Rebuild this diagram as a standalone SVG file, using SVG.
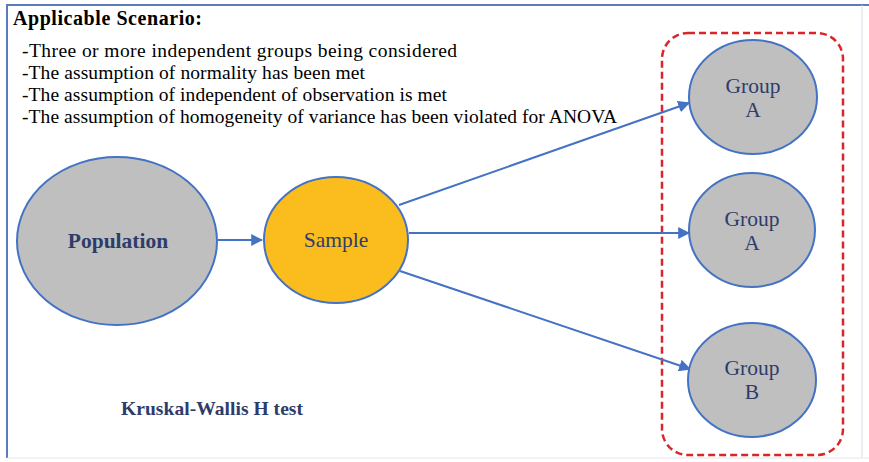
<svg xmlns="http://www.w3.org/2000/svg" width="869" height="462" viewBox="0 0 869 462">
<style>
.t{font-family:"Liberation Serif","Times New Roman",serif;}
.node{stroke:#4472c4;stroke-width:2;}
.gray{fill:#bfbfbf;}
.lbl{font-family:"Liberation Serif","Times New Roman",serif;font-size:21.5px;fill:#2e3c6b;text-anchor:middle;}
.conn line{stroke:#4472c4;stroke-width:2;marker-end:url(#ah);}
</style>
<defs>
<marker id="ah" viewBox="0 0 10 10" refX="9" refY="5" markerWidth="6" markerHeight="6" orient="auto" markerUnits="strokeWidth">
<path d="M0,0 L10,5 L0,10 z" fill="#4472c4"/>
</marker>
</defs>
<rect x="0" y="0" width="869" height="462" fill="#ffffff"/>
<path d="M7,458 L7,5 L869,5" fill="none" stroke="#5b7bbf" stroke-width="2"/>
<line x1="862" y1="5" x2="862" y2="458" stroke="#d8dde6" stroke-width="1"/>
<line x1="7" y1="458" x2="869" y2="458" stroke="#e3e6ea" stroke-width="1"/>
<g id="scenario" class="t" fill="#000">
<text x="13" y="25" font-size="20" font-weight="bold" textLength="189">Applicable Scenario:</text>
<text x="22" y="57" font-size="19.5" textLength="435">-Three or more independent groups being considered</text>
<text x="22" y="79" font-size="19.5" textLength="343">-The assumption of normality has been met</text>
<text x="22" y="101" font-size="19.5" textLength="425">-The assumption of independent of observation is met</text>
<text x="22" y="123" font-size="19.5" textLength="595">-The assumption of homogeneity of variance has been violated for ANOVA</text>
</g>
<rect id="group-box" x="662" y="33" width="181" height="422" rx="26" ry="26" fill="none" stroke="#d9262b" stroke-width="2.5" stroke-dasharray="7,4"/>
<g class="conn" id="connectors">
<line x1="218" y1="240" x2="262" y2="240"/>
<line x1="399" y1="205" x2="689" y2="103"/>
<line x1="409" y1="233" x2="689" y2="233"/>
<line x1="400" y1="271" x2="690" y2="369"/>
</g>
<g id="population">
<ellipse class="node gray" cx="117" cy="241" rx="100" ry="84"/>
<text class="lbl" x="118" y="248" font-weight="bold">Population</text>
</g>
<g id="sample">
<ellipse class="node" cx="336" cy="240" rx="72" ry="63" fill="#fbbd1e"/>
<text class="lbl" x="336" y="247">Sample</text>
</g>
<g id="group-a1">
<ellipse class="node gray" cx="753" cy="97" rx="64" ry="57"/>
<text class="lbl" x="753" y="93">Group</text>
<text class="lbl" x="753" y="117">A</text>
</g>
<g id="group-a2">
<ellipse class="node gray" cx="752" cy="230" rx="63" ry="57"/>
<text class="lbl" x="752" y="226">Group</text>
<text class="lbl" x="752" y="250">A</text>
</g>
<g id="group-b">
<ellipse class="node gray" cx="752" cy="380" rx="64" ry="57"/>
<text class="lbl" x="752" y="375">Group</text>
<text class="lbl" x="752" y="399">B</text>
</g>
<text id="test-name" class="t" x="121" y="415" font-size="19.5" font-weight="bold" fill="#2e3c6b" textLength="182">Kruskal-Wallis H test</text>
</svg>
